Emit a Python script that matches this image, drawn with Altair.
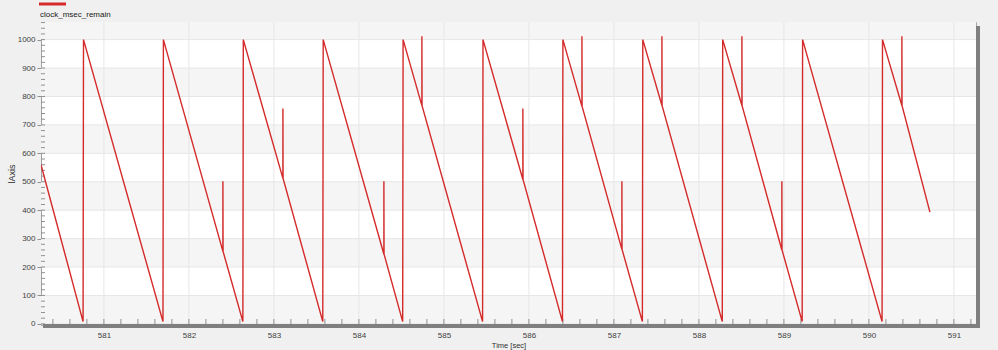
import altair as alt
import pandas as pd

# ---------------- data ----------------
series_name = "clock_msec_remain"

times = [
    580.26, 580.755, 580.76,
    581.695, 581.70,
    582.40, 582.40, 582.402, 582.635, 582.64,
    583.106, 583.106, 583.108, 583.575, 583.58,
    584.294, 584.294, 584.296, 584.515, 584.52,
    584.741, 584.741, 584.743, 585.455, 585.46,
    585.929, 585.929, 585.931, 586.395, 586.40,
    586.624, 586.624, 586.626, 587.094, 587.094, 587.096, 587.335, 587.34,
    587.565, 587.565, 587.567, 588.275, 588.28,
    588.506, 588.506, 588.508, 588.976, 588.976, 588.978, 589.215, 589.22,
    590.155, 590.16,
    590.388, 590.388, 590.39, 590.718,
]
values = [
    560, 8, 1000,
    8, 1000,
    255, 502, 255, 8, 1000,
    512, 758, 512, 8, 1000,
    245, 502, 245, 8, 1000,
    768, 1012, 768, 8, 1000,
    508, 758, 508, 8, 1000,
    765, 1012, 765, 262, 502, 262, 8, 1000,
    768, 1012, 768, 8, 1000,
    768, 1012, 768, 260, 502, 260, 8, 1000,
    8, 1000,
    768, 1012, 768, 393,
]

y_ticks = [0, 100, 200, 300, 400, 500, 600, 700, 800, 900, 1000]
x_ticks = [581, 582, 583, 584, 585, 586, 587, 588, 589, 590, 591]
band_lo = [0, 200, 400, 600, 800, 1000]
band_hi = [100, 300, 500, 700, 900, 1062]
y_minor = list(range(0, 1061, 20))
x_minor = [round(580.4 + 0.2 * k, 1) for k in range(55)]

x_domain = [580.26, 591.26]
y_domain = [-4, 1062]

# ---------------- chart ----------------
W, H = 935, 303
FONT = "Liberation Sans"
RED = "#d42a2a"

line_df = pd.DataFrame({"t": times, "v": values, "i": list(range(len(times)))})
band_df = pd.DataFrame({"v": band_lo, "hi": band_hi})
ygrid_df = pd.DataFrame({"v": y_ticks})
xgrid_df = pd.DataFrame({"t": x_ticks})
yminor_df = pd.DataFrame({"v": y_minor})
xminor_df = pd.DataFrame({"t": [t for t in x_minor if t <= 591.2]})
one = pd.DataFrame({"k": [0]})

xs = alt.Scale(domain=x_domain, nice=False, zero=False)
ys = alt.Scale(domain=y_domain, nice=False, zero=False)

x_axis = alt.Axis(
    values=x_ticks, format="d", grid=False, domain=False, ticks=False,
    labelPadding=6, labelFontSize=8, labelFont=FONT, labelColor="#404040",
    title="Time [sec]", titleFont=FONT, titleFontSize=7.5, titleFontWeight="normal",
    titleColor="#303030", titleY=22, titleBaseline="alphabetic",
    labelFlush=False,
)
y_axis = alt.Axis(
    values=y_ticks, format="d", grid=False, domain=True, domainColor="#a0a0a0",
    ticks=True, tickSize=4, tickColor="#909090", labelPadding=2,
    labelFontSize=8, labelFont=FONT, labelColor="#404040",
    title="lAxis", titleFont=FONT, titleFontSize=9, titleFontWeight="normal",
    titleColor="#303030", titleX=-30, titleY=H / 2, titleAlign="center",
    titleBaseline="middle", labelFlush=False,
)


def X(field):
    return alt.X(field, scale=xs, axis=x_axis, title="Time [sec]")


def Y(field):
    return alt.Y(field, scale=ys, axis=y_axis, title="lAxis")


bands = alt.Chart(band_df).mark_rect(color="#f5f5f5").encode(
    x=alt.value(0), x2=alt.value(W), y=Y("v:Q"), y2="hi:Q",
)

ygrid = alt.Chart(ygrid_df).mark_rule(color="#e6e6e6", strokeWidth=1).encode(
    y=Y("v:Q")
)
xgrid = alt.Chart(xgrid_df).mark_rule(color="#e6e6e6", strokeWidth=1).encode(
    x=X("t:Q")
)

yminor = alt.Chart(yminor_df).mark_rule(color="#909090", strokeWidth=1).encode(
    y=Y("v:Q"), x=alt.value(0), x2=alt.value(4)
)
xminor = alt.Chart(xminor_df).mark_rule(color="#909090", strokeWidth=1).encode(
    x=X("t:Q"), y=alt.value(H - 6), y2=alt.value(H - 1)
)

bottom_bar = alt.Chart(one).mark_rect(color="#7f7f7f").encode(
    x=alt.value(2), x2=alt.value(W + 4), y=alt.value(H - 1), y2=alt.value(H + 3)
)
right_bar = alt.Chart(one).mark_rect(color="#7f7f7f").encode(
    x=alt.value(W), x2=alt.value(W + 4), y=alt.value(4), y2=alt.value(H + 3)
)

line = alt.Chart(line_df).mark_line(color=RED, strokeWidth=1.4, clip=True).encode(
    x=X("t:Q"),
    y=Y("v:Q"),
    order=alt.Order("i:Q"),
)

legend_swatch = alt.Chart(one).mark_rule(color=RED, strokeWidth=3).encode(
    x=alt.value(-2), x2=alt.value(25), y=alt.value(-18)
)
legend_text = alt.Chart(one).mark_text(
    align="left", baseline="middle", font=FONT, fontSize=8, color="#202020"
).encode(x=alt.value(-1), y=alt.value(-7), text=alt.value(series_name))

chart = alt.layer(
    bands, ygrid, xgrid, yminor, xminor, bottom_bar, right_bar, line,
    legend_swatch, legend_text,
).properties(
    width=W, height=H,
    padding={"left": 41, "top": 22, "right": 22, "bottom": 25},
    autosize=alt.AutoSizeParams(type="none"),
    background="#f0f0f0",
).configure_view(
    stroke="#a8a8a8", strokeWidth=1, fill="white"
)

chart.save("out.html", embed_options={"renderer": "svg", "actions": False})
